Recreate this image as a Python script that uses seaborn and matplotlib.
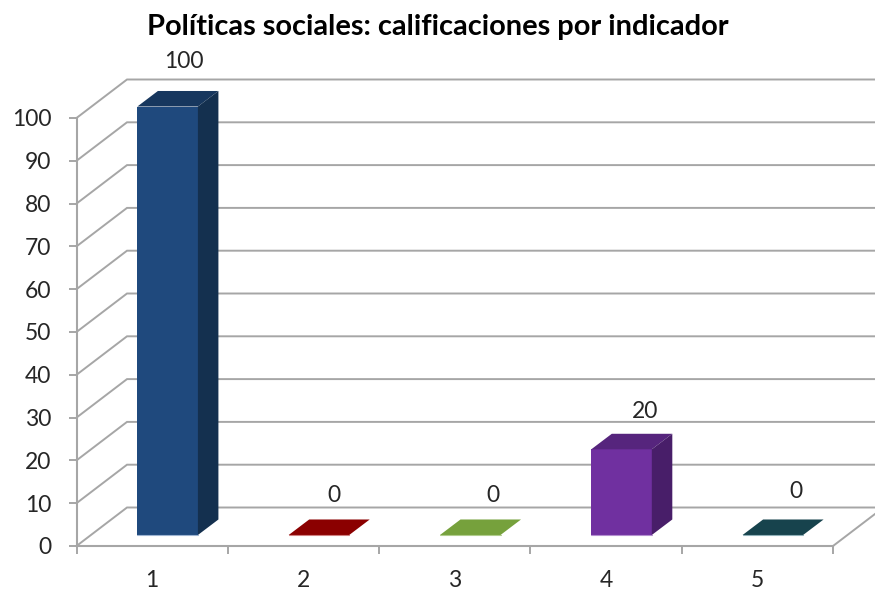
import matplotlib
matplotlib.use("Agg")
import matplotlib.pyplot as plt
import pandas as pd
import seaborn as sns

categories = ["1", "2", "3", "4", "5"]
values = [100, 0, 0, 20, 0]
y_ticks = list(range(0, 101, 10))
title = "Políticas sociales: calificaciones por indicador"
front_colors = ["#1F497D", "#8B0000", "#76A13C", "#7030A0", "#17434D"]
top_colors = ["#17375E", "#8B0000", "#76A13C", "#56257D", "#17434D"]
side_colors = ["#14304F", "#8B0000", "#76A13C", "#481E69", "#17434D"]
edge_colors = ["#9DB4D2", "#D08080", "#B0CC8C", "#B48FD0", "#8FB0B8"]

W, H = 875, 590
GRID = "#A6A6A6"
TEXT = "#262626"
FONT = "Lato"
TICK_SIZE = 16.5

sns.set_theme(style="white")
plt.rcParams["font.family"] = [FONT, "DejaVu Sans"]


def px_axes(fig, left, right, top, bottom):
    return fig.add_axes([left / W, 1 - bottom / H, (right - left) / W, (bottom - top) / H])


fig = plt.figure(figsize=(W / 100, H / 100), dpi=100, facecolor="white")

# main axes: scale, ticks and the walls of the 3-D box
ax = px_axes(fig, 76.5, 833, 118, 546)
ax.set_xlim(-0.5, 4.5)
ax.set_ylim(0, 100)
ax.patch.set_alpha(0)
sns.despine(ax=ax)
for s in ("left", "bottom"):
    ax.spines[s].set_color(GRID)
    ax.spines[s].set_linewidth(1.5)
ax.set_xticks(range(len(categories)), categories)
ax.set_xticks([i - 0.5 for i in range(len(categories) + 1)], minor=True)
ax.tick_params(axis="x", which="major", length=0, pad=17, labelsize=TICK_SIZE, labelcolor=TEXT)
ax.tick_params(axis="x", which="minor", bottom=True, length=6, width=1.4, color=GRID)
ax.set_yticks(y_ticks, [str(v) for v in y_ticks])
ax.tick_params(axis="y", left=True, length=6, width=1.4, color=GRID, pad=12, labelsize=TICK_SIZE, labelcolor=TEXT)

unit_x = (833 - 76.5) / 5
unit_y = (546 - 118) / 100
wall_dx, wall_dy = 50.5 / unit_x, 38.5 / unit_y
x0 = -0.5
for v in y_ticks:
    ax.plot([x0, x0 + wall_dx, 7], [v, v + wall_dy, v + wall_dy], color=GRID, lw=1.4,
            clip_on=False, solid_joinstyle="miter", zorder=1)
ax.plot([4.5, 4.5 + wall_dx], [0, wall_dy], color=GRID, lw=1.4, clip_on=False, zorder=1)

# bars axes: the columns sit a little inside the floor of the box
bx = px_axes(fig, 92, 848.5, 106.5, 535)
df = pd.DataFrame({"indicador": categories, "valor": values})
sns.barplot(data=df, x="indicador", y="valor", hue="indicador", palette=front_colors,
            order=categories, hue_order=categories, legend=False, width=0.4, ax=bx,
            saturation=1, linewidth=0, zorder=3)
bx.set_xlim(-0.5, 4.5)
bx.set_ylim(0, 100)
bx.axis("off")

bar_dx, bar_dy = 20.5 / unit_x, 15.5 / unit_y
half = 0.2
for i, v in enumerate(values):
    l, r = i - half, i + half
    bx.fill([l, r, r + bar_dx, l + bar_dx], [v, v, v + bar_dy, v + bar_dy],
            color=top_colors[i], lw=0, clip_on=False, zorder=4)
    if v > 0:
        bx.fill([r, r + bar_dx, r + bar_dx, r], [0, bar_dy, v + bar_dy, v],
                color=side_colors[i], lw=0, clip_on=False, zorder=4)
    bx.plot([l, r], [0, 0], color=edge_colors[i], lw=0.8, clip_on=False, zorder=5)

# data labels
label_offsets = [(16, 45), (15, 40), (23, 40), (24, 38), (23, 43)]
for i, v in enumerate(values):
    bx.annotate(str(v), (i, v), xytext=(label_offsets[i][0] * 0.72, label_offsets[i][1] * 0.72),
                textcoords="offset points", ha="center", va="center",
                fontsize=TICK_SIZE, color=TEXT, annotation_clip=False, zorder=6)

fig.text(438 / W, 1 - 27 / H, title, ha="center", va="center", fontsize=20.9,
         fontweight="bold", color="black")

fig.savefig("out.png", dpi=100, facecolor="white")
